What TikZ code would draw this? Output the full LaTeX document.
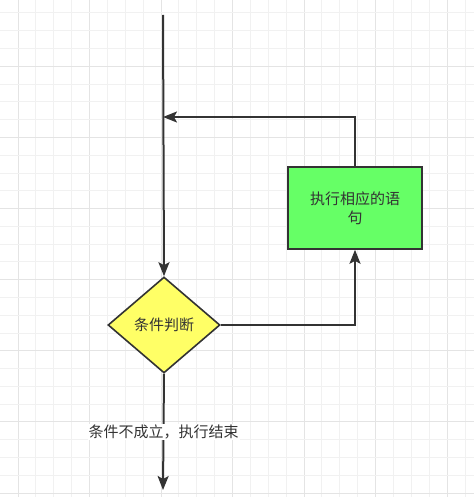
\documentclass[tikz,border=0pt]{standalone}
\usepackage{fontspec}
\usepackage{tikz}
\usetikzlibrary{arrows.meta,shapes.geometric}
\newfontfamily\cjk{Noto Sans CJK SC}
\definecolor{linegray}{HTML}{333333}
\definecolor{gridminor}{HTML}{F1F1F1}
\definecolor{gridmajor}{HTML}{E4E4E4}
\definecolor{condfill}{HTML}{FFFF66}
\definecolor{bodyfill}{HTML}{66FF66}

\begin{document}
\begin{tikzpicture}[x=1pt,y=-1pt,
        every node/.style={font=\cjk\fontsize{15}{19}\selectfont, text=linegray},
        flow/.style={draw=linegray, line width=2pt, -{Stealth[length=14pt,width=11pt,inset=3pt]}},
        decision/.style={diamond, draw=linegray, line width=1.6pt, fill=condfill,
            minimum width=112pt, minimum height=96pt, inner sep=0pt},
        process/.style={rectangle, draw=linegray, line width=1.6pt, fill=bodyfill,
            minimum width=134pt, minimum height=82pt, align=center}]
        \useasboundingbox (0,0) rectangle (474,497);
        \fill [white] (0,0) rectangle (474,497);
        % background grid
        \foreach \i in {0,...,25} {
            \pgfmathsetmacro{\gx}{18+17.88*\i}
            \ifnum\numexpr\i-4*(\i/4)\relax=0
                \draw [gridmajor, line width=1pt] (\gx,0) -- (\gx,497);
            \else
                \draw [gridminor, line width=1pt] (\gx,0) -- (\gx,497);
            \fi
        }
        \foreach \j in {0,...,27} {
            \pgfmathsetmacro{\gy}{13+17.78*\j}
            \draw [gridminor, line width=1pt] (0,\gy) -- (474,\gy);
        }
        \foreach \j in {3,7,...,27} {
            \pgfmathsetmacro{\gy}{13+17.78*\j}
            \draw [gridmajor, line width=1pt] (0,\gy) -- (474,\gy);
        }

        % nodes
        \coordinate (start) at (163,15);
        \coordinate (merge) at (163,117);
        \coordinate (finish) at (163,490);
        \node [decision] (cond) at (164,325) {条件判断};
        \node [process] (body) at (355,208) {执行相应的语\\句};

        % connectors
        \draw [flow] (start) -- (cond.north);
        \draw [flow] (body.north) |- (merge);
        \draw [flow] (cond.east) -| (body.south);
        \draw [flow] (cond.south) -- (finish)
            node [pos=0.5, fill=white, inner sep=1pt] (exit) {条件不成立，执行结束};
    \end{tikzpicture}
\end{document}
